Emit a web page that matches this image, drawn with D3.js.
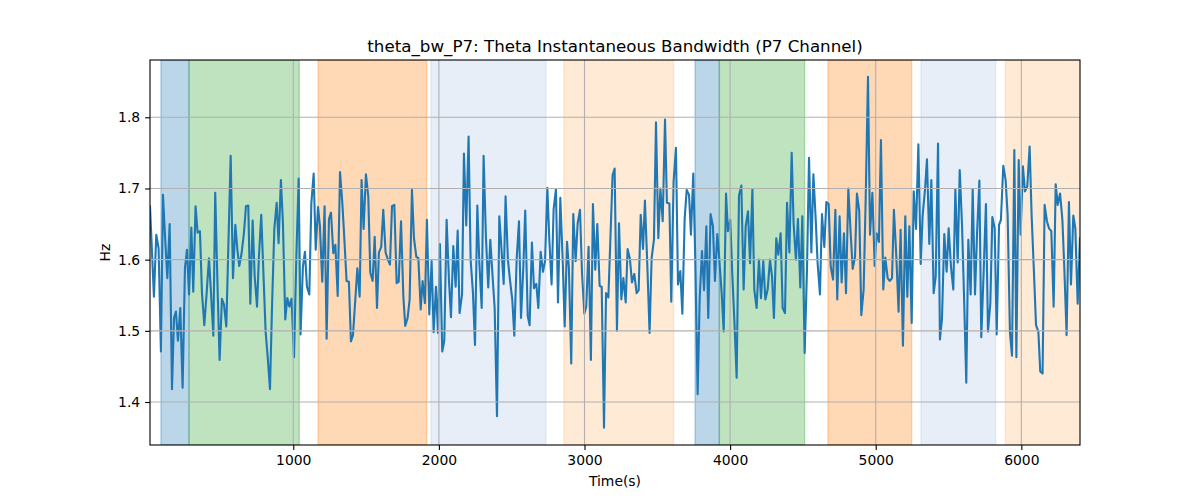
<!DOCTYPE html>
<html><head><meta charset="utf-8">
<script src="https://cdn.jsdelivr.net/npm/d3@7"></script>
<style>body{margin:0;background:#fff}text{font-family:"DejaVu Sans",sans-serif}</style>
</head><body><svg id="c" width="1200" height="500"></svg>
<script>
const times = [16,43,59,75,91,105,120,135,151,167,181,194,208,224,240,256,270,284,300,313,329,343,359,373,389,405,421,435,451,464,481,494,510,524,540,554,570,586,602,616,629,645,661,675,691,705,721,735,751,764,780,794,810,824,840,854,870,886,899,915,929,945,959,973,988,1005,1021,1037,1050,1066,1080,1094,1110,
1124,1140,1154,1170,1183,1199,1215,1229,1245,1259,1275,1289,1305,1321,1337,1350,1366,1382,1396,1410,1426,1440,1456,1469,1483,1499,1515,1529,1545,1559,1575,1588,1604,1618,1634,1650,1664,1678,1694,1710,1724,1740,1756,1769,1785,1799,1815,1829,1845,1859,1875,1888,1904,1918,1934,1950,1964,1980,1994,2007,2023,2037,2053,2069,2083,2099,2115,2129,2142,
2159,2172,2188,2204,2218,2234,2248,2264,2278,2294,2307,2323,2339,2353,2369,2383,2399,2415,2429,2445,2458,2474,2488,2504,2518,2534,2550,2564,2580,2593,2610,2623,2639,2653,2669,2683,2699,2715,2729,2745,2758,2774,2788,2804,2818,2834,2850,2864,2880,2893,2909,2923,2939,2953,2969,2983,2999,3012,3028,3044,3058,3074,3088,3104,3118,3134,3148,3164,
3178,3193,3207,3223,3237,3253,3267,3283,3296,3312,3326,3342,3358,3372,3386,3402,3415,3431,3447,3461,3477,3491,3507,3521,3537,3553,3566,3583,3596,3612,3628,3642,3658,3672,3688,3702,3718,3731,3747,3761,3777,3791,3807,3821,3837,3850,3866,3882,3896,3912,3926,3942,3956,3972,3985,4001,4015,4031,4045,4061,4077,4093,4107,4123,4137,4153,4166,4182,4198,
4212,4228,4242,4258,4274,4288,4301,4317,4331,4347,4361,4377,4391,4407,4423,4436,4452,4466,4482,4496,4512,4528,4542,4558,4572,4588,4601,4617,4631,4647,4661,4677,4691,4707,4723,4736,4752,4766,4782,4796,4812,4828,4842,4858,4871,4887,4901,4917,4931,4947,4961,4977,4993,5006,5022,5036,5052,5066,5082,5096,5112,5125,5141,5157,5171,5187,5203,5217,5231,
5247,5261,5277,5293,5309,5322,5339,5352,5368,5382,5398,5412,5428,5441,5455,5471,5487,5501,5517,5533,5547,5563,5577,5593,5606,5622,5636,5652,5666,5682,5696,5712,5725,5741,5757,5771,5787,5801,5817,5831,5847,5860,5876,5892,5906,5922,5936,5952,5966,5982,5995,6011,6025,6041,6057,6071,6087,6101,6117,6130,6146,6160,6176,6190,6206,6222,6236,6250,6266,6282,6295,6311,6327,6341,6357,6371,6387,6403];
const values = [1.675,1.548,1.635,1.616,1.471,1.691,1.63,1.574,1.650,1.418,1.518,1.527,1.486,1.532,1.420,1.588,1.614,1.551,1.645,1.555,1.675,1.638,1.640,1.553,1.508,1.553,1.602,1.553,1.493,1.694,1.553,1.459,1.545,1.537,1.506,1.618,1.746,1.574,1.649,1.614,1.591,1.609,1.637,1.675,1.676,1.538,1.655,1.576,1.534,1.604,1.663,1.586,1.499,1.464,1.418,1.534,1.644,1.680,1.623,1.712,1.651,1.516,1.546,1.534,1.545,1.463,1.604,1.714,1.495,1.590,1.611,1.562,1.551,
1.679,1.721,1.614,1.674,1.647,1.569,1.675,1.489,1.657,1.666,1.609,1.621,1.549,1.723,1.679,1.632,1.570,1.569,1.485,1.494,1.544,1.588,1.548,1.712,1.643,1.720,1.689,1.582,1.570,1.632,1.532,1.610,1.618,1.670,1.610,1.600,1.593,1.675,1.677,1.567,1.569,1.654,1.548,1.507,1.518,1.544,1.698,1.630,1.604,1.602,1.530,1.570,1.539,1.656,1.523,1.598,1.498,1.562,1.497,1.622,1.471,1.486,1.656,1.572,1.519,1.619,1.562,1.641,1.525,
1.551,1.749,1.648,1.773,1.600,1.553,1.480,1.676,1.595,1.532,1.746,1.632,1.561,1.628,1.576,1.532,1.380,1.661,1.618,1.566,1.689,1.600,1.572,1.544,1.493,1.600,1.654,1.518,1.590,1.669,1.521,1.508,1.624,1.560,1.566,1.532,1.611,1.583,1.598,1.701,1.630,1.565,1.671,1.699,1.540,1.687,1.600,1.506,1.625,1.588,1.454,1.664,1.598,1.651,1.670,1.581,1.524,1.534,1.618,1.459,1.678,1.586,1.650,1.563,1.562,1.364,1.553,1.547,
1.630,1.719,1.728,1.500,1.651,1.544,1.574,1.540,1.615,1.601,1.568,1.580,1.553,1.557,1.663,1.615,1.683,1.595,1.497,1.602,1.628,1.793,1.630,1.700,1.654,1.797,1.680,1.679,1.541,1.710,1.757,1.565,1.584,1.524,1.658,1.698,1.691,1.635,1.721,1.600,1.411,1.545,1.612,1.557,1.647,1.518,1.664,1.647,1.570,1.636,1.600,1.553,1.499,1.693,1.640,1.656,1.580,1.506,1.434,1.690,1.704,1.558,1.647,1.668,1.595,1.699,1.558,1.532,1.600,
1.546,1.598,1.544,1.558,1.600,1.576,1.518,1.630,1.607,1.637,1.532,1.525,1.680,1.610,1.750,1.651,1.600,1.657,1.561,1.661,1.469,1.586,1.743,1.610,1.720,1.656,1.595,1.551,1.664,1.618,1.681,1.678,1.590,1.572,1.670,1.544,1.661,1.568,1.637,1.553,1.700,1.637,1.587,1.604,1.693,1.668,1.522,1.558,1.684,1.857,1.635,1.694,1.591,1.637,1.625,1.768,1.558,1.603,1.574,1.570,1.574,1.670,1.607,1.527,1.642,1.479,1.661,1.548,1.647,
1.511,1.696,1.643,1.762,1.594,1.661,1.700,1.741,1.622,1.712,1.553,1.576,1.763,1.488,1.516,1.636,1.583,1.644,1.590,1.558,1.699,1.596,1.726,1.647,1.553,1.427,1.628,1.551,1.699,1.551,1.637,1.711,1.491,1.581,1.678,1.499,1.538,1.660,1.644,1.495,1.649,1.656,1.732,1.712,1.663,1.497,1.465,1.754,1.463,1.740,1.635,1.731,1.696,1.703,1.759,1.661,1.581,1.508,1.499,1.443,1.440,1.677,1.654,1.644,1.640,1.534,1.706,1.677,1.693,1.656,1.590,1.494,1.681,1.565,1.662,1.644,1.538,1.630];
const bandStarts = [91,284,1170,1946,2859,3759,3926,4672,5311,5890];
const bandEnds   = [284,1041,1916,2735,3612,3926,4512,5247,5824,6460];
const bandColors = ["#1f77b4","#2ca02c","#ff7f0e","#aec7e8","#ffbb78","#1f77b4","#2ca02c","#ff7f0e","#aec7e8","#ffbb78"];
const xTicks = [1000,2000,3000,4000,5000,6000];
const yTicks = [1.4,1.5,1.6,1.7,1.8];
const titleText = "theta_bw_P7: Theta Instantaneous Bandwidth (P7 Channel)";

const L=150,R=1080,T=60,B=445;
const svg=d3.select("#c");
const x=d3.scaleLinear().domain([16,6403]).range([L,R]);
const y=d3.scaleLinear().domain([1.3396,1.8805]).range([B,T]);
svg.append("defs").append("clipPath").attr("id","clip").append("rect").attr("x",L).attr("y",T).attr("width",R-L).attr("height",B-T);
const plot=svg.append("g").attr("clip-path","url(#clip)");
plot.selectAll("rect.band").data(bandStarts).enter().append("rect")
 .attr("x",(d)=>x(d)).attr("width",(d,i)=>x(bandEnds[i])-x(d))
 .attr("y",T).attr("height",B-T).attr("fill",(d,i)=>bandColors[i]).attr("fill-opacity",0.3)
 .attr("stroke",(d,i)=>bandColors[i]).attr("stroke-opacity",0.3).attr("stroke-width",1.4);
const g=svg.append("g");
g.selectAll("line.gx").data(xTicks).enter().append("line").attr("x1",d=>x(d)).attr("x2",d=>x(d)).attr("y1",T).attr("y2",B).attr("stroke","#b0b0b0").attr("stroke-width",1.1);
g.selectAll("line.gy").data(yTicks).enter().append("line").attr("y1",d=>y(d)).attr("y2",d=>y(d)).attr("x1",L).attr("x2",R).attr("stroke","#b0b0b0").attr("stroke-width",1.1);
const pts=times.map((t,i)=>[t,values[i]]);
plot.append("path").datum(pts).attr("fill","none").attr("stroke","#1f77b4").attr("stroke-width",2.1).attr("stroke-linejoin","round").attr("stroke-linecap","square")
 .attr("d",d3.line().x(d=>x(d[0])).y(d=>y(d[1])));
svg.append("rect").attr("x",L).attr("y",T).attr("width",R-L).attr("height",B-T).attr("fill","none").attr("stroke","#000").attr("stroke-width",1.1);
const ax=svg.append("g").attr("transform",`translate(0,${B})`).call(d3.axisBottom(x).tickValues(xTicks).tickSize(4.9).tickPadding(4.9).tickFormat(d3.format("d")));
const ay=svg.append("g").attr("transform",`translate(${L},0)`).call(d3.axisLeft(y).tickValues(yTicks).tickSize(4.9).tickPadding(4.9).tickFormat(d3.format(".1f")));
[ax,ay].forEach(a=>{a.select(".domain").remove();a.selectAll("line").attr("stroke","#000").attr("stroke-width",1.1);a.selectAll("text").attr("font-size","13.9px").attr("fill","#000").style("font-family","DejaVu Sans");});
svg.append("text").attr("x",(L+R)/2).attr("y",52).attr("text-anchor","middle").attr("font-size","16.7px").text(titleText);
svg.append("text").attr("x",(L+R)/2).attr("y",486).attr("text-anchor","middle").attr("font-size","13.9px").text("Time(s)");
svg.append("text").attr("transform",`translate(110,${(T+B)/2}) rotate(-90)`).attr("text-anchor","middle").attr("font-size","13.9px").text("Hz");
</script></body></html>
